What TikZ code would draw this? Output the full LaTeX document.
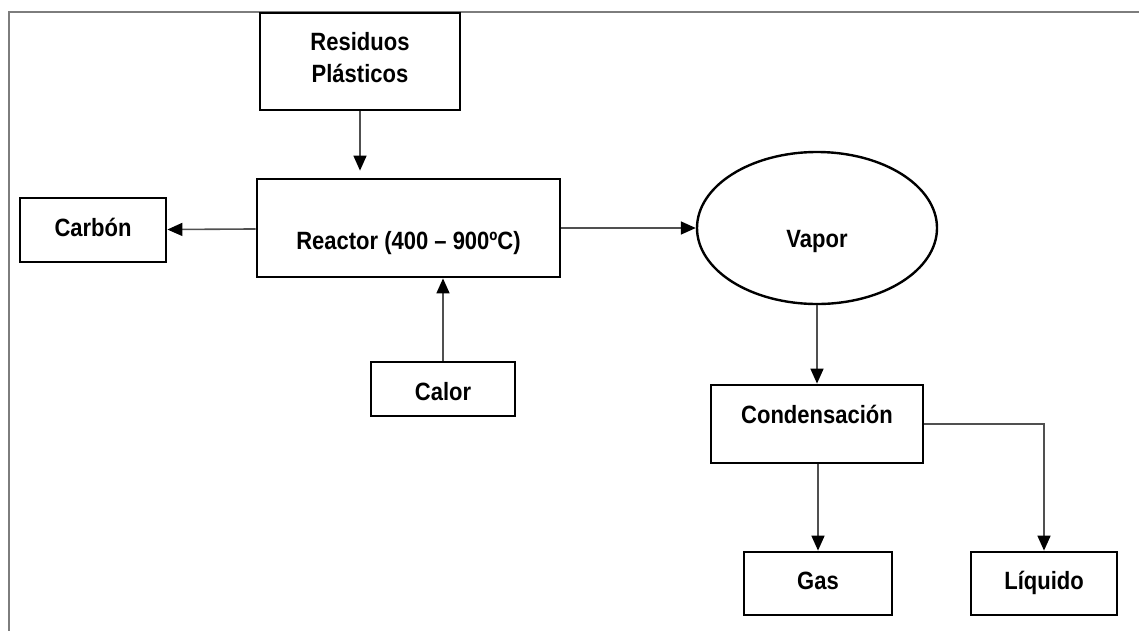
\documentclass[tikz,border=0pt]{standalone}
\usepackage{fontspec}
\setmainfont{Liberation Sans}[FakeStretch=0.88]
\usetikzlibrary{positioning,arrows.meta,shapes.geometric}
\definecolor{lineagris}{RGB}{80,80,80}
\definecolor{marcogris}{RGB}{125,125,125}

\begin{document}
\begin{tikzpicture}[x=1pt,y=-1pt,
    caja/.style={draw, line width=2.8pt, inner sep=0pt, align=center,
                 font=\bfseries\fontsize{25}{32}\selectfont},
    flecha/.style={line width=1.6pt, color=lineagris,
                   -{Triangle[length=15pt,width=13pt,color=black]}},
    marco/.style={line width=2.4pt, color=marcogris}]
  \useasboundingbox (0,0) rectangle (1139,630);
  \draw[marco] (9,640) |- (1150,12);
  \node[caja, minimum width=200pt, text height=69pt, text depth=28pt] (res) at (360,61.5) {Residuos\\Plásticos};
  \node[caja, minimum width=303pt, text height=70pt, text depth=28pt] (reac) at (408.5,228) {Reactor (400 – 900ºC)};
  \node[caja, minimum width=146pt, text height=38pt, text depth=26pt] (car) at (93,230) {Carbón};
  \node[caja, minimum width=144pt, text height=38pt, text depth=16pt] (cal) at (443,389) {Calor};
  \node[caja, ellipse, line width=2.4pt, minimum width=240pt, minimum height=152pt,
        text height=40pt, text depth=2pt] (vap) at (817,228) {Vapor};
  \node[caja, minimum width=212pt, text height=38pt, text depth=40pt] (con) at (817,424) {Condensación};
  \node[caja, minimum width=148pt, text height=37pt, text depth=26pt] (gas) at (818,583.5) {Gas};
  \node[caja, minimum width=146pt, text height=37pt, text depth=26pt] (liq) at (1044,583.5) {Líquido};
  \draw[flecha, shorten >=7pt] (res) -- (res |- reac.north);
  \draw[flecha] (reac) -- (car);
  \draw[flecha] (cal.north) -- (cal.north |- reac.south);
  \draw[flecha] (reac) -- (vap);
  \draw[flecha] (vap) -- (con);
  \draw[flecha] (gas.north |- con.south) -- (gas.north);
  \draw[flecha] (con.east) -| (liq.north);
\end{tikzpicture}
\end{document}
